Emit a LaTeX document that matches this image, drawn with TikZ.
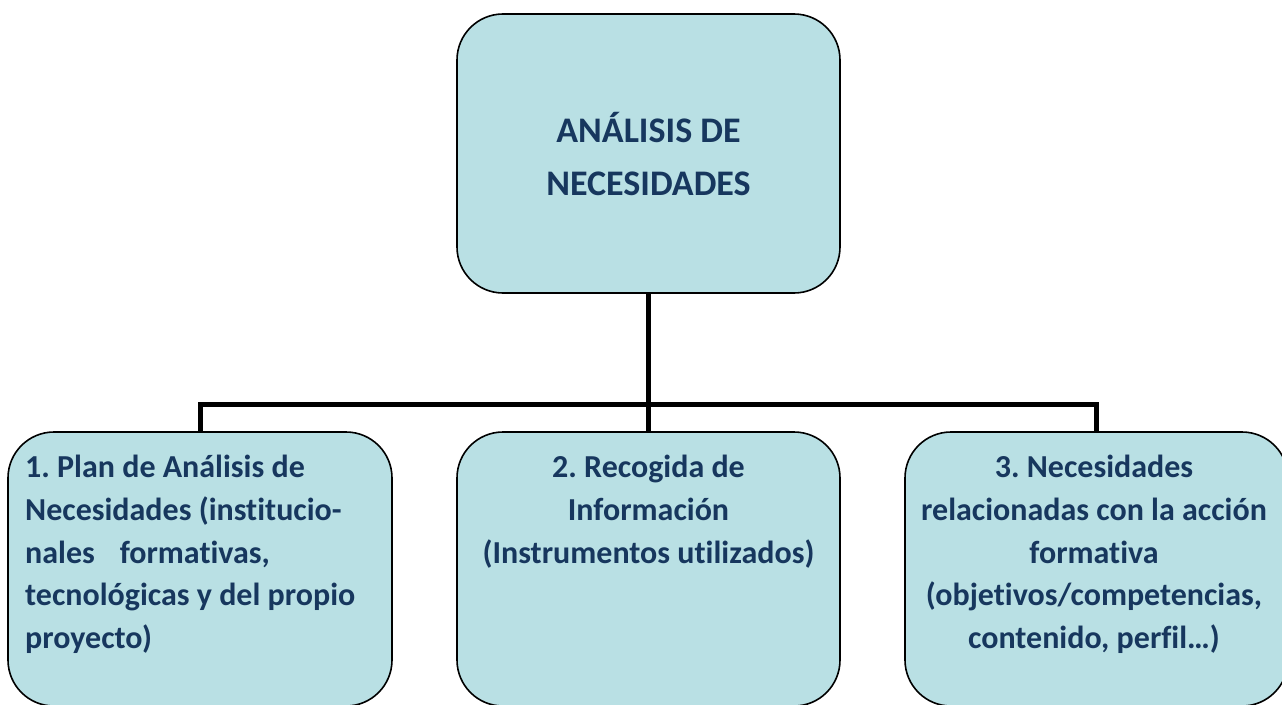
\documentclass[tikz,border=0pt]{standalone}
\usepackage{fontspec}
\setmainfont[Ligatures=NoCommon]{Carlito}
\frenchspacing
\definecolor{boxfill}{RGB}{185,224,228}
\definecolor{txt}{RGB}{23,55,94}
\begin{document}
\begin{tikzpicture}[x=1pt,y=-1pt,
  box/.style={draw=black,line width=1.6pt,fill=boxfill,rounded corners=46pt,
    rectangle,inner sep=0pt},
  conn/.style={draw=black,line width=5pt,line join=miter,line cap=butt},
  bigtxt/.style={text=txt,font=\fontsize{36}{53}\selectfont\bfseries,align=center,inner sep=0pt},
  smalltxt/.style={text=txt,font=\fontsize{32}{42.7}\selectfont\bfseries,inner sep=0pt}]
\useasboundingbox (0,0) rectangle (1282,704);
\node[box,minimum width=383pt,minimum height=279pt] (top) at (648.5,153.5) {};
\node[box,minimum width=384pt,minimum height=274pt] (b1) at (200,569) {};
\node[box,minimum width=383pt,minimum height=274pt] (b2) at (648.5,569) {};
\node[box,minimum width=383pt,minimum height=274pt] (b3) at (1096.5,569) {};
\coordinate (j) at (648.5,404);
\draw[conn] (top.south) -- (b2.north);
\draw[conn] (b1.north) -- (b1.north |- j) -- (b3.north |- j) -- (b3.north);
\node[bigtxt] (ttop) at (648.5,154) {ANÁLISIS DE\\NECESIDADES};
\node[smalltxt,align=left,anchor=north west] (t1) at (25,455)
  {1. Plan de Análisis de\\Necesidades (institucio-\\nales\hspace{0.55em} formativas,\\tecnológicas y del propio\\proyecto)};
\node[smalltxt,align=center,anchor=north] (t2) at (648.5,455)
  {2. Recogida de\\Información\\(Instrumentos utilizados)};
\node[smalltxt,align=center,anchor=north] (t3) at (1094,455)
  {3. Necesidades\\relacionadas con la acción\\formativa\\(objetivos/competencias,\\contenido, perfil…)};
\end{tikzpicture}
\end{document}
